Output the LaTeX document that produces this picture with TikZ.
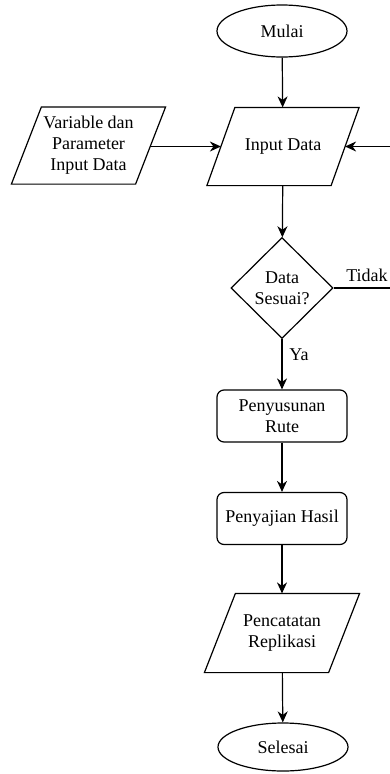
\documentclass[tikz,border=0pt]{standalone}
\usepackage{fontspec}
\setmainfont{Liberation Serif}
\usetikzlibrary{shapes.geometric,arrows.meta,calc}

\tikzset{
  base/.style={font=\fontsize{18}{21}\selectfont, align=center, inner sep=0pt, line width=1.2pt},
  terminal/.style={base, draw, ellipse, minimum width=130pt, minimum height=52pt},
  process/.style={base, draw, rectangle, rounded corners=7pt, minimum width=130pt, minimum height=52pt},
  decision/.style={base, draw, diamond, aspect=1, minimum width=102pt, minimum height=101pt},
  iobody/.style={base, rectangle, minimum height=77pt},
  flow/.style={line width=1.2pt, -{Stealth[length=11pt,width=10pt,inset=3.5pt]}},
  plain/.style={line width=1.2pt},
  lbl/.style={font=\fontsize{18}{21}\selectfont, inner sep=0pt}
}

% draw a right-leaning parallelogram around a node body
\newcommand{\iobox}[2]{%
  \draw[line width=1.2pt]
    ([xshift=-#2]#1.south west) -- ([xshift=-#2]#1.south east) --
    ([xshift=#2]#1.north east) -- ([xshift=#2]#1.north west) -- cycle;}

\begin{document}
\begin{tikzpicture}[x=1pt, y=-1pt]
  \clip (0,0) rectangle (390,774);

  \node[terminal] (start) at (282,31) {Mulai};
  \node[iobody, minimum width=123pt] (input) at (283,146.5) {Input Data};
  \iobox{input}{14pt}
  \node[iobody, minimum width=123pt, minimum height=76pt] (param) at (88.5,145.5) {Variable dan\\Parameter\\Input Data};
  \iobox{param}{15pt}
  \node[decision] (check) at (282,288) {Data\\Sesuai?};
  \node[process] (route) at (282,416) {Penyusunan\\Rute};
  \node[process] (result) at (282,518.5) {Penyajian Hasil};
  \node[iobody, minimum width=123pt, minimum height=78pt] (log) at (282,633) {Pencatatan\\Replikasi};
  \iobox{log}{15.5pt}
  \node[terminal, minimum height=48pt] (stop) at (283,747) {Selesai};

  \coordinate (loopA) at (400,288);
  \coordinate (loopB) at (400,146.5);

  \draw[flow] (start) -- (input);
  \draw[flow] (param.east |- input.west) -- (input.west);
  \draw[flow] (input) -- (check);
  \draw[plain] (check.east) -- (loopA) -- (loopB);
  \draw[flow] (loopB) -- (input.east);
  \draw[flow] (check) -- (route);
  \draw[flow] (route) -- (result);
  \draw[flow] (result) -- (log);
  \draw[flow] (log) -- (stop);

  \node[lbl] (no) at (367,275) {Tidak};
  \node[lbl] (yes) at (299,355) {Ya};
\end{tikzpicture}
\end{document}
